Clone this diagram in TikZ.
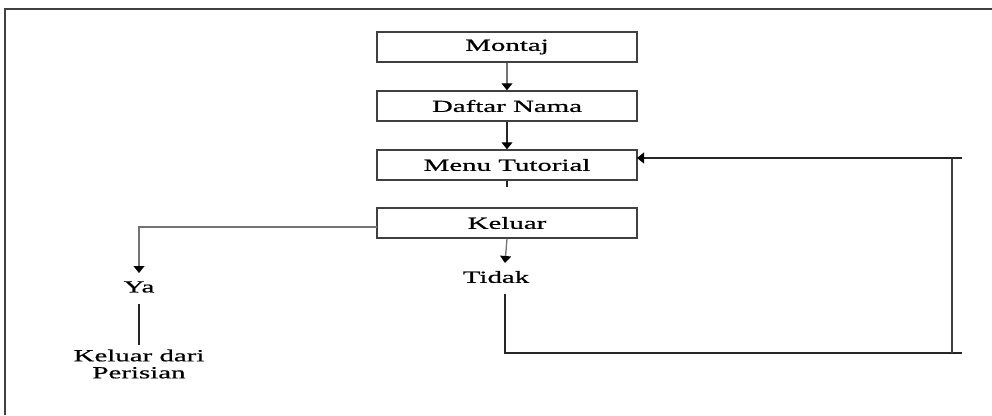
\documentclass[tikz,border=0pt]{standalone}
\usepackage{fontspec}
\setmainfont{Liberation Serif}[FakeStretch=1.7,FakeBold=0.7]
\usetikzlibrary{arrows.meta}
\begin{document}
\begin{tikzpicture}[x=1pt,y=-1pt,
  line width=1.3pt,
  stepbox/.style={draw=black!75,line width=1.5pt,minimum width=260pt,minimum height=30pt,inner sep=0pt,font=\fontsize{17}{15}\selectfont},
  lbl/.style={inner sep=0pt,font=\fontsize{17}{17}\selectfont,align=center},
  flow/.style={draw=black!85,-{Triangle[width=11pt,length=7pt,color=black]}},
  wire/.style={draw=black!85}]
\useasboundingbox (0,0) rectangle (992,415);
% frame
\draw[black!75,line width=1.5pt] (5,415) -- (5,9) -- (992,9);
% boxes
\node[stepbox] (montaj) at (507,47) {Montaj};
\node[stepbox] (daftar) at (507,106) {Daftar Nama};
\node[stepbox] (menu) at (507,165) {Menu Tutorial};
\node[stepbox] (keluar) at (507,223) {Keluar};
% labels
\node[lbl] (tidak) at (496,277) {Tidak};
\node[lbl] (ya) at (139,287) {Ya};
\node[lbl] (exit) at (139,364) {Keluar dari\\Perisian};
% helper points
\coordinate (tick) at (507,187);
\coordinate (kw) at (377,227);
\coordinate (yacorner) at (139,227);
\coordinate (yatop) at (139,273);
\coordinate (yalo) at (139,304);
\coordinate (exittop) at (139,345);
\coordinate (tdtop) at (505,263);
\coordinate (tdlo) at (505,294);
\coordinate (tdcorner) at (505,353);
\coordinate (botend) at (962,353);
\coordinate (rbot) at (952,353);
\coordinate (rtop) at (952,158);
\coordinate (topend) at (962,158);
\coordinate (menuin) at (637,158);
% connectors
\draw[flow,draw=black!55] (montaj.south) -- (daftar.north);
\draw[flow] (daftar.south) -- (menu.north);
\draw[wire] (menu.south) -- (tick);
\draw[flow,draw=black!55] (keluar.south) -- (tdtop);
\draw[flow,draw=black!55] (kw) -- (yacorner) -- (yatop);
\draw[wire] (yalo) -- (exittop);
\draw[wire] (tdlo) -- (tdcorner) -- (botend);
\draw[wire,line width=1.7pt,black!75] (rbot) -- (rtop);
\draw[flow] (topend) -- (menuin);
\end{tikzpicture}
\end{document}
